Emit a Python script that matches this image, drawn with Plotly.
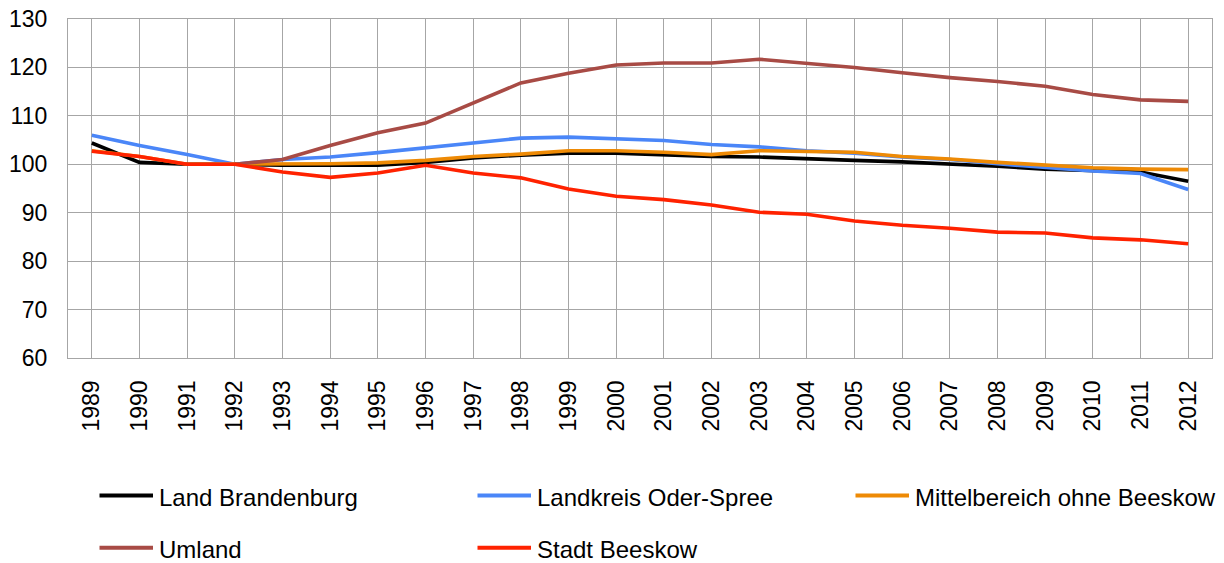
import plotly.graph_objects as go

years = [str(y) for y in range(1989, 2013)]

land_brandenburg = [104.4, 100.4, 100.0, 100.0, 99.8, 99.8, 99.8, 100.4, 101.3, 101.9, 102.3, 102.3,
                    102.0, 101.6, 101.5, 101.1, 100.8, 100.5, 100.1, 99.6, 99.0, 98.7, 98.4, 96.5]
landkreis_oder_spree = [106.0, 103.9, 102.0, 100.0, 101.0, 101.5, 102.4, 103.4, 104.5, 105.4, 105.6, 105.2,
                        104.9, 104.1, 103.6, 102.8, 102.3, 101.5, 101.0, 100.1, 99.3, 98.6, 98.1, 94.8]
mittelbereich = [102.8, 101.6, 100.0, 100.0, 100.0, 100.1, 100.3, 100.8, 101.6, 102.1, 102.8, 102.8,
                 102.5, 102.0, 102.8, 102.7, 102.5, 101.6, 101.1, 100.4, 99.8, 99.3, 99.0, 98.9]
umland = [None, None, None, 100.0, 101.0, 103.9, 106.5, 108.5, 112.6, 116.8, 118.8, 120.5,
          120.9, 120.9, 121.7, 120.8, 120.0, 118.9, 117.9, 117.1, 116.1, 114.4, 113.3, 113.0]
stadt_beeskow = [102.7, 101.6, 100.0, 100.0, 98.4, 97.3, 98.2, 99.8, 98.2, 97.2, 94.9, 93.4,
                 92.7, 91.6, 90.1, 89.7, 88.3, 87.4, 86.8, 86.0, 85.8, 84.8, 84.4, 83.6]

series_names = ["Land Brandenburg", "Landkreis Oder-Spree", "Mittelbereich ohne Beeskow",
                "Umland", "Stadt Beeskow"]
series_values = [land_brandenburg, landkreis_oder_spree, mittelbereich, umland, stadt_beeskow]
series_colors = ["#000000", "#4a86f8", "#ee8a05", "#a84b45", "#ff2200"]

FONT = "Liberation Sans, Arial, sans-serif"
W, H = 1224, 563
ML, MR, MT, MB = 68, 12, 19, 205
PW, PH = W - ML - MR, H - MT - MB


def px_x(px):
    return (px - ML) / PW


def px_y(py):
    return (H - MB - py) / PH


fig = go.Figure()
for name, vals, color in zip(series_names, series_values, series_colors):
    fig.add_trace(go.Scatter(x=years, y=vals, name=name, mode="lines",
                             line=dict(color=color, width=3.6), showlegend=False))

# legend drawn as a 3-column grid below the chart
col_x = [99.5, 477.5, 855.5]
row_y = [495.5, 547.7]
sample_len = 53.5
shapes, annotations = [], []
for i, (name, color) in enumerate(zip(series_names, series_colors)):
    cx = col_x[i % 3]
    ry = row_y[i // 3]
    shapes.append(dict(type="line", xref="paper", yref="paper",
                       x0=px_x(cx), x1=px_x(cx + sample_len), y0=px_y(ry), y1=px_y(ry),
                       line=dict(color=color, width=4)))
    annotations.append(dict(text=name, xref="paper", yref="paper", x=px_x(cx + sample_len + 4),
                            y=px_y(ry + 1.5), xanchor="left", yanchor="middle", showarrow=False,
                            font=dict(family=FONT, size=24, color="#000000")))

fig.update_layout(
    width=W, height=H,
    margin=dict(l=ML, r=MR, t=MT, b=MB, autoexpand=False),
    paper_bgcolor="white", plot_bgcolor="white",
    font=dict(family=FONT, size=23, color="#000000"),
    showlegend=False,
    shapes=shapes, annotations=annotations,
    xaxis=dict(type="category", range=[-0.5, 23.5], showgrid=True, gridcolor="#a6a6a6", gridwidth=1.3,
               showline=True, linecolor="#a6a6a6", linewidth=1.3, mirror=True, ticks="",
               tickangle=-90, tickfont=dict(family=FONT, size=23), ticklabelstandoff=12,
               automargin=False),
    yaxis=dict(range=[60, 130], dtick=10, showgrid=True, gridcolor="#a6a6a6", gridwidth=1.3,
               showline=True, linecolor="#a6a6a6", linewidth=1.3, mirror=True, ticks="",
               zeroline=False, tickfont=dict(family=FONT, size=23), ticklabelstandoff=15,
               automargin=False),
)

fig.write_html("out.html", config={"displayModeBar": False},
               post_script="document.body.style.margin='0';document.body.style.overflow='hidden';")
